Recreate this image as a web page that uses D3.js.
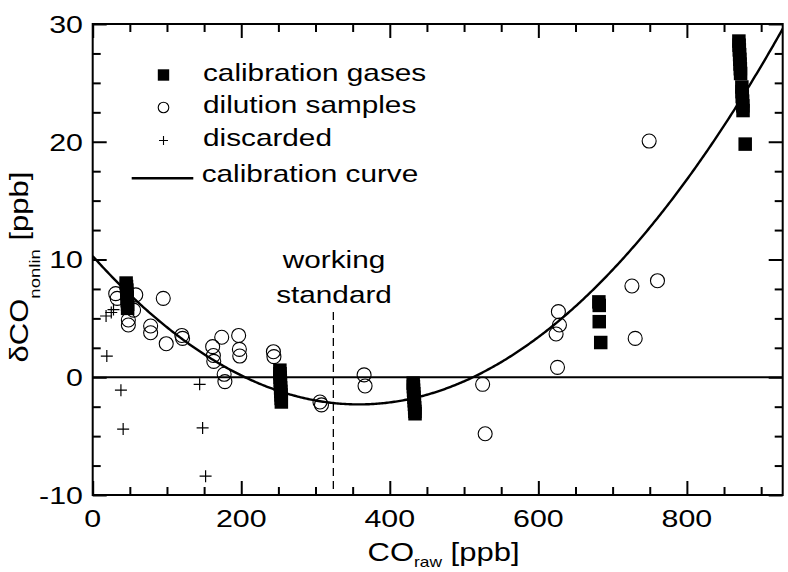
<!DOCTYPE html>
<html>
<head>
<meta charset="utf-8">
<script src="https://cdn.jsdelivr.net/npm/d3@7"></script>
<style>
  html, body { margin: 0; padding: 0; background: #fff; }
  svg text { font-family: "Liberation Sans", Arial, Helvetica, sans-serif; fill: #000; }
</style>
</head>
<body>
<svg id="chart" width="788" height="572"></svg>
<script>
// ---------------- data ----------------
const calX = [45, 45.5, 46, 46, 46.5, 46.5, 47, 47,
  252, 252.2, 252.4, 252.6, 252.8, 253, 253.3, 253.6, 253.8, 254,
  431.5, 431.8, 432, 432.3, 432.6, 432.9, 433.2, 433.5, 433.8, 434,
  681.5, 682, 682, 684,
  870, 870.3, 870.6, 871, 871.3, 871.6, 872, 872.3,
  874, 874.3, 874.6, 875, 875.3, 875.6,
  878.5];
const calY = [8.0, 7.7, 7.4, 7.1, 6.8, 6.5, 6.2, 5.85,
  0.6, 0.3, 0.0, -0.3, -0.6, -0.9, -1.2, -1.5, -1.8, -2.1,
  -0.5, -0.8, -1.1, -1.4, -1.7, -2.0, -2.3, -2.6, -2.9, -3.1,
  6.4, 6.1, 4.72, 2.95,
  28.55, 28.2, 27.8, 27.4, 27.0, 26.6, 26.2, 25.8,
  24.65, 24.25, 23.85, 23.45, 23.05, 22.65,
  19.8];

const dilX = [31, 33, 58, 55, 48, 48, 95, 78, 78, 99, 120, 121, 161.5, 162.5, 163, 173.7,
  196.5, 197.5, 198, 177, 178, 243.3, 244, 306, 308, 365.4, 366.7, 525, 528.4,
  625.8, 627, 628.4, 623.9, 726, 760.4, 730.4, 749.2];
const dilY = [7.1, 6.7, 7.0, 5.7, 4.86, 4.44, 6.7, 4.35, 3.78, 2.85, 3.55, 3.3, 2.6, 1.85, 1.35, 3.4,
  3.55, 2.37, 1.8, 0.25, -0.37, 2.17, 1.75, -2.1, -2.35, 0.2, -0.74, -0.6, -4.8,
  0.84, 5.57, 4.44, 3.67, 7.75, 8.2, 3.3, 20.06];

const discX = [18, 25, 28, 19, 38, 41, 144, 148, 152];
const discY = [5.2, 5.5, 5.75, 1.8, -1.1, -4.4, -0.6, -4.3, -8.4];

// calibration curve polynomial coefficients c0 + c1*x + c2*x^2
const curveCoeffs = [10.29, -0.07027, 9.8e-5];
const workingStandard = 324;

const xTicks = [0, 200, 400, 600, 800];
const yTicks = [-10, 0, 10, 20, 30];
const legendLabels = ["calibration gases", "dilution samples", "discarded", "calibration curve"];

// ---------------- layout ----------------
const svg = d3.select("#chart");
const L = 92.7, R = 782.7, T = 24, B = 495;
const x = d3.scaleLinear().domain([0, 929]).range([L, R]);
const y = d3.scaleLinear().domain([-10, 30]).range([B, T]);
const SX = 1.24; // horizontal text stretch

function txt(g, s, px, py, anchor, size, rot) {
  const t = g.append("text")
    .attr("transform", `translate(${px},${py})` + (rot ? ` rotate(${rot})` : "") + ` scale(${SX},1)`)
    .attr("text-anchor", anchor || "start")
    .attr("font-size", size || 24);
  t.text(s);
  return t;
}

const clipId = "plotclip";
svg.append("clipPath").attr("id", clipId)
  .append("rect").attr("x", L).attr("y", T).attr("width", R - L).attr("height", B - T);

const plot = svg.append("g").attr("clip-path", `url(#${clipId})`);

// zero line
plot.append("line")
  .attr("x1", L).attr("x2", R).attr("y1", y(0)).attr("y2", y(0))
  .attr("stroke", "#000").attr("stroke-width", 1.8);

// working standard dashed line
svg.append("line")
  .attr("x1", x(workingStandard)).attr("x2", x(workingStandard))
  .attr("y1", 312).attr("y2", B)
  .attr("stroke", "#000").attr("stroke-width", 1.3)
  .attr("stroke-dasharray", "8,5");

// calibration curve
const curvePts = d3.range(0, 931, 2).map(v => [v, curveCoeffs[0] + curveCoeffs[1] * v + curveCoeffs[2] * v * v]);
plot.append("path")
  .attr("d", d3.line().x(d => x(d[0])).y(d => y(d[1]))(curvePts))
  .attr("fill", "none").attr("stroke", "#000").attr("stroke-width", 2.4);

// dilution samples (open circles)
plot.selectAll("circle.dil").data(dilX.map((v, i) => [v, dilY[i]])).enter()
  .append("circle").attr("class", "dil")
  .attr("cx", d => x(d[0])).attr("cy", d => y(d[1])).attr("r", 7)
  .attr("fill", "none").attr("stroke", "#000").attr("stroke-width", 1.1);

// discarded (+)
const plusG = plot.selectAll("g.disc").data(discX.map((v, i) => [v, discY[i]])).enter()
  .append("g").attr("class", "disc")
  .attr("transform", d => `translate(${x(d[0])},${y(d[1])})`);
plusG.append("path").attr("d", "M-6,0H6M0,-6V6").attr("stroke", "#000").attr("stroke-width", 1.2);

// calibration gases (filled squares)
const sq = 13.5;
plot.selectAll("rect.cal").data(calX.map((v, i) => [v, calY[i]])).enter()
  .append("rect").attr("class", "cal")
  .attr("x", d => x(d[0]) - sq / 2).attr("y", d => y(d[1]) - sq / 2)
  .attr("width", sq).attr("height", sq).attr("fill", "#000");

// ---------------- axes ----------------
const frame = svg.append("g");
function inward(axisGen, tr, vals, len) {
  const g = frame.append("g").attr("transform", tr)
    .call(axisGen.tickValues(vals).tickSize(len).tickFormat(""));
  g.select(".domain").remove();
  g.selectAll(".tick line").attr("stroke", "#000").attr("stroke-width", 2);
  return g;
}
const xMinor = d3.range(0, 930, 50).filter(v => v % 200 !== 0);
const yMinor = d3.range(-10, 30.1, 2.5).filter(v => v % 10 !== 0);
inward(d3.axisTop(x), `translate(0,${B})`, xTicks, 14);
inward(d3.axisTop(x), `translate(0,${B})`, xMinor, 8);
inward(d3.axisBottom(x), `translate(0,${T})`, xTicks, 14);
inward(d3.axisBottom(x), `translate(0,${T})`, xMinor, 8);
inward(d3.axisRight(y), `translate(${L},0)`, yTicks, 14);
inward(d3.axisRight(y), `translate(${L},0)`, yMinor, 8);
inward(d3.axisLeft(y), `translate(${R},0)`, yTicks, 14);
inward(d3.axisLeft(y), `translate(${R},0)`, yMinor, 8);

frame.append("rect").attr("x", L).attr("y", T).attr("width", R - L).attr("height", B - T)
  .attr("fill", "none").attr("stroke", "#000").attr("stroke-width", 2);

// tick labels
const lab = svg.append("g");
xTicks.forEach(v => txt(lab, String(v), x(v), 527, "middle", 24.5));
yTicks.forEach(v => txt(lab, String(v), 83, y(v) + 8.8, "end", 24.5));

// axis titles
const xt = txt(lab, "CO", 443.5, 561, "middle", 25);
xt.append("tspan").attr("font-size", 14).attr("dy", 6).text("raw");
xt.append("tspan").attr("font-size", 25).attr("dy", -6).text(" [ppb]");

const yt = txt(lab, "δCO", 28, 267, "middle", 25, -90);
yt.append("tspan").attr("font-size", 15).attr("dy", 12).text("nonlin");
yt.append("tspan").attr("font-size", 25).attr("dy", -12).text(" [ppb]");

// working standard label
txt(lab, "working", 334, 268, "middle", 24);
txt(lab, "standard", 334, 303, "middle", 24);

// ---------------- legend ----------------
const lg = svg.append("g");
const rowY = [75, 107.5, 140.5, 173];
lg.append("rect").attr("x", 163.5 - 5.7).attr("y", rowY[0] - 5.7).attr("width", 11.4).attr("height", 11.4).attr("fill", "#000");
lg.append("circle").attr("cx", 163.5).attr("cy", rowY[1]).attr("r", 5.3).attr("fill", "none").attr("stroke", "#000").attr("stroke-width", 1.1);
lg.append("path").attr("d", `M159,${rowY[2]}H168M163.5,${rowY[2] - 4.5}V${rowY[2] + 4.5}`).attr("stroke", "#000").attr("stroke-width", 1.1);
lg.append("line").attr("x1", 131.7).attr("x2", 193.3).attr("y1", 178.3).attr("y2", 178.3).attr("stroke", "#000").attr("stroke-width", 2.4);
const baselines = [80.7, 113.3, 146, 181.5];
legendLabels.forEach((s, i) => txt(lg, s, i === 3 ? 201.7 : 203, baselines[i], "start", 24));
</script>
</body>
</html>
